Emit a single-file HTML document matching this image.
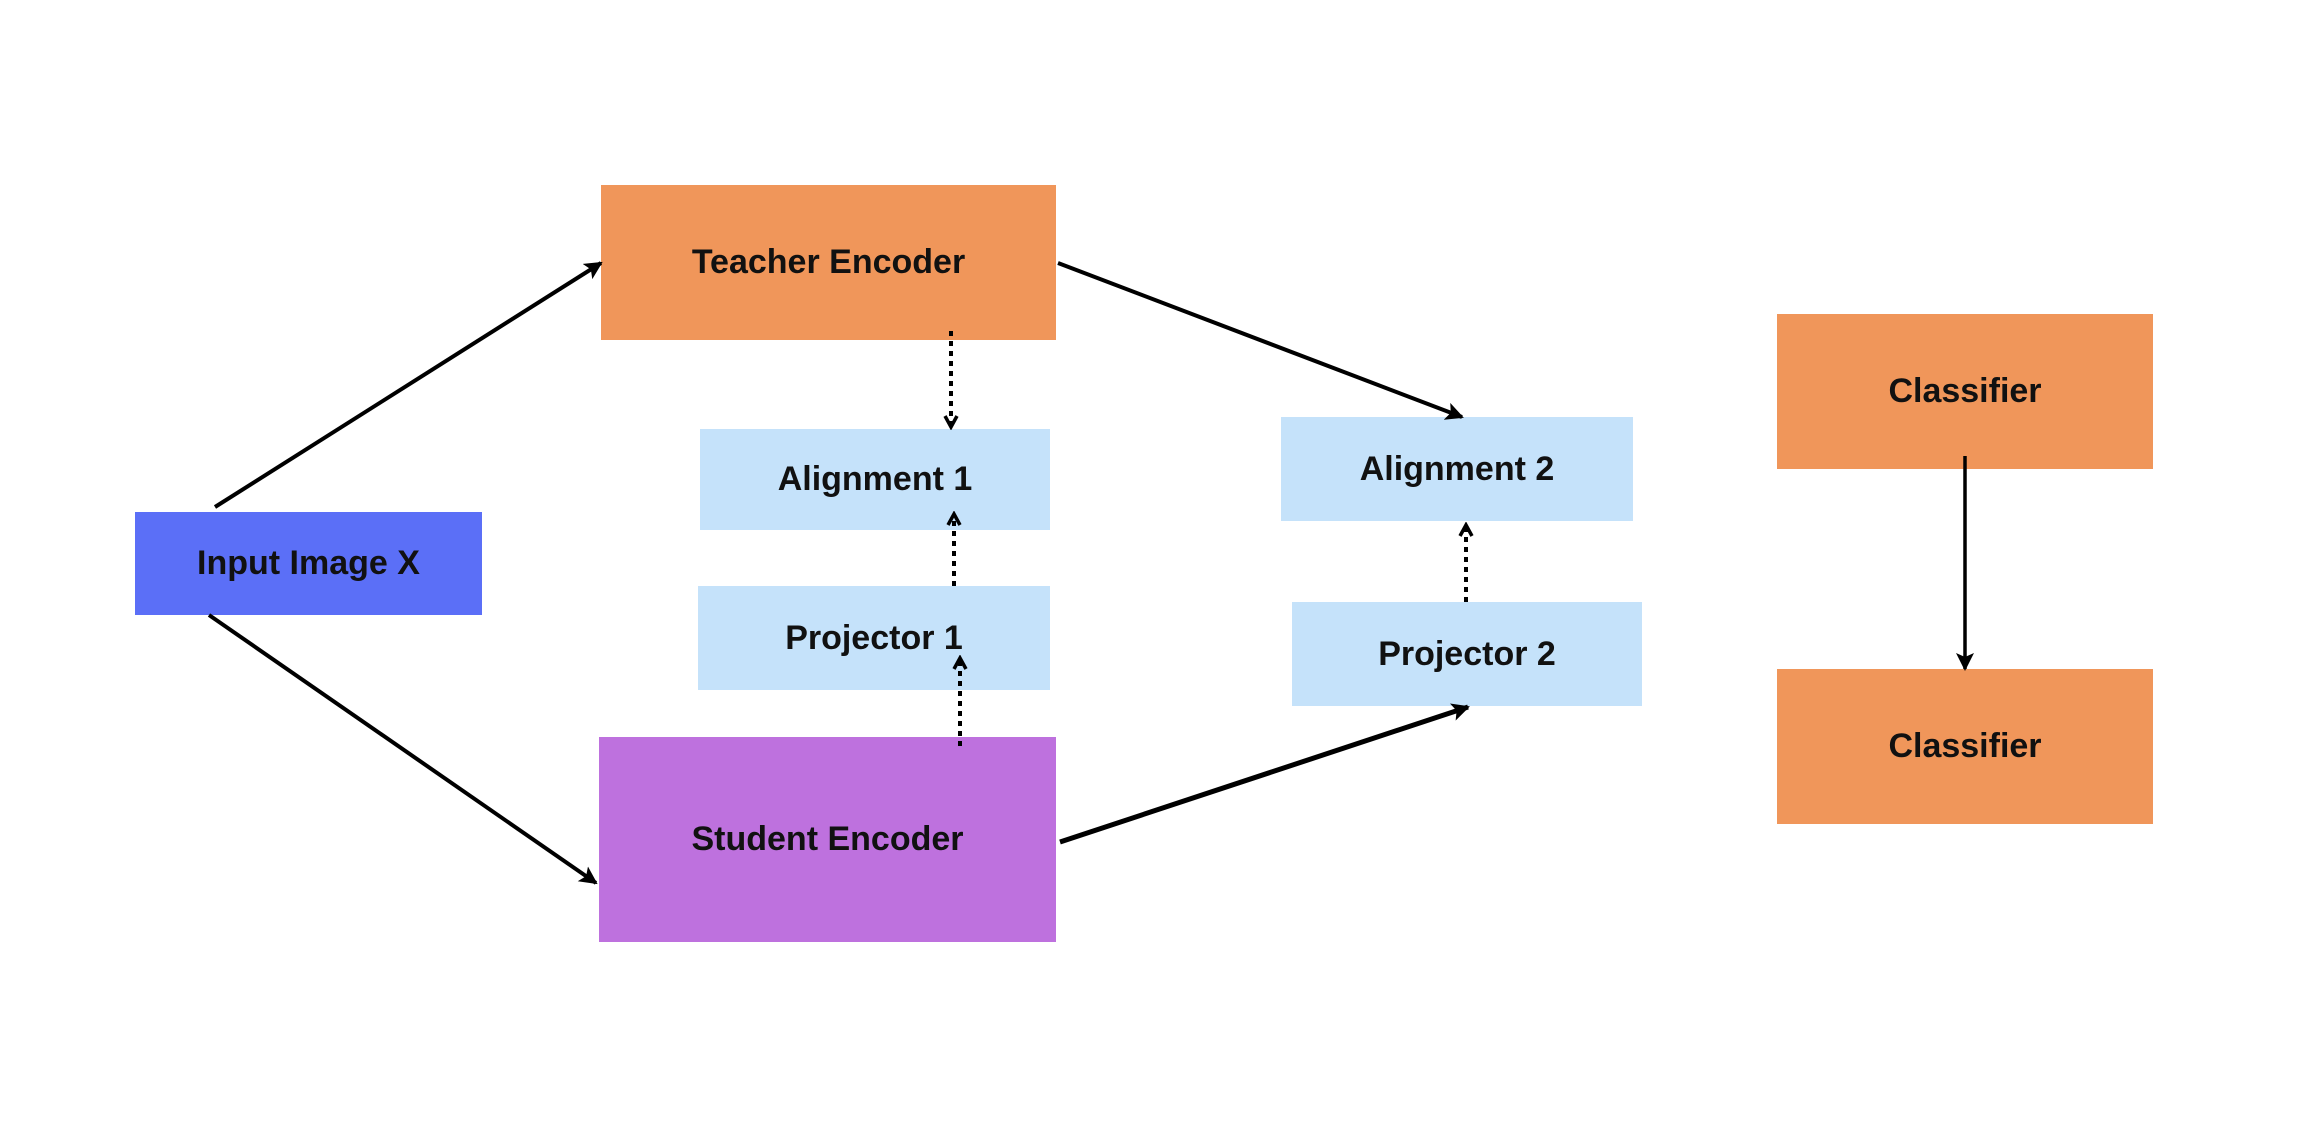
<!DOCTYPE html>
<html><head><meta charset="utf-8"><style>
html,body{margin:0;padding:0;background:#fff;}
body{width:2320px;height:1124px;position:relative;overflow:hidden;font-family:"Liberation Sans",sans-serif;}
.b{position:absolute;display:flex;align-items:center;justify-content:center;font-weight:bold;font-size:34px;color:#111;}
svg{position:absolute;left:0;top:0;}
</style></head><body>
<div class="b" style="left:601px;top:185px;width:455px;height:155px;background:#F0965A">Teacher Encoder</div>
<div class="b" style="left:135px;top:512px;width:347px;height:103px;background:#5B6FF7">Input Image X</div>
<div class="b" style="left:700px;top:429px;width:350px;height:101px;background:#C5E2FA">Alignment 1</div>
<div class="b" style="left:698px;top:586px;width:352px;height:104px;background:#C5E2FA">Projector 1</div>
<div class="b" style="left:599px;top:737px;width:457px;height:205px;background:#BE71DE">Student Encoder</div>
<div class="b" style="left:1281px;top:417px;width:352px;height:104px;background:#C5E2FA">Alignment 2</div>
<div class="b" style="left:1292px;top:602px;width:350px;height:104px;background:#C5E2FA">Projector 2</div>
<div class="b" style="left:1777px;top:314px;width:376px;height:155px;background:#F0965A">Classifier</div>
<div class="b" style="left:1777px;top:669px;width:376px;height:155px;background:#F0965A">Classifier</div>
<svg width="2320" height="1124" viewBox="0 0 2320 1124">
<defs>
<marker id="a" markerWidth="10" markerHeight="10" refX="8" refY="5" orient="auto" markerUnits="userSpaceOnUse" viewBox="0 0 10 10"><path d="M0,0 L10,5 L0,10 z" fill="#000" transform="scale(1)"/></marker>
<marker id="A" markerWidth="18" markerHeight="18" refX="16" refY="9" orient="auto" markerUnits="userSpaceOnUse"><path d="M0,0 L18,9 L0,18 L4,9 z" fill="#000"/></marker>
<marker id="o" markerWidth="16" markerHeight="16" refX="13" refY="8" orient="auto" markerUnits="userSpaceOnUse"><path d="M2,2 L13,8 L2,14" fill="none" stroke="#000" stroke-width="3.5"/></marker>
</defs>
<g stroke="#000" stroke-width="4" fill="none">
<line x1="215" y1="507" x2="601" y2="263" marker-end="url(#A)"/>
<line x1="209" y1="615" x2="596" y2="883" marker-end="url(#A)"/>
<line x1="1058" y1="263" x2="1462" y2="417" marker-end="url(#A)"/>
<line x1="1060" y1="842" x2="1468" y2="707" stroke-width="5" marker-end="url(#A)"/>
<line x1="1965" y1="456" x2="1965" y2="669" stroke-width="3.5" marker-end="url(#A)"/>
<g stroke-dasharray="5,5" stroke-width="4">
<line x1="951" y1="331" x2="951" y2="427" marker-end="url(#o)"/>
<line x1="954" y1="586" x2="954" y2="514" marker-end="url(#o)"/>
<line x1="960" y1="746" x2="960" y2="658" marker-end="url(#o)"/>
<line x1="1466" y1="602" x2="1466" y2="525" marker-end="url(#o)"/>
</g>
</g>
</svg>
</body></html>
